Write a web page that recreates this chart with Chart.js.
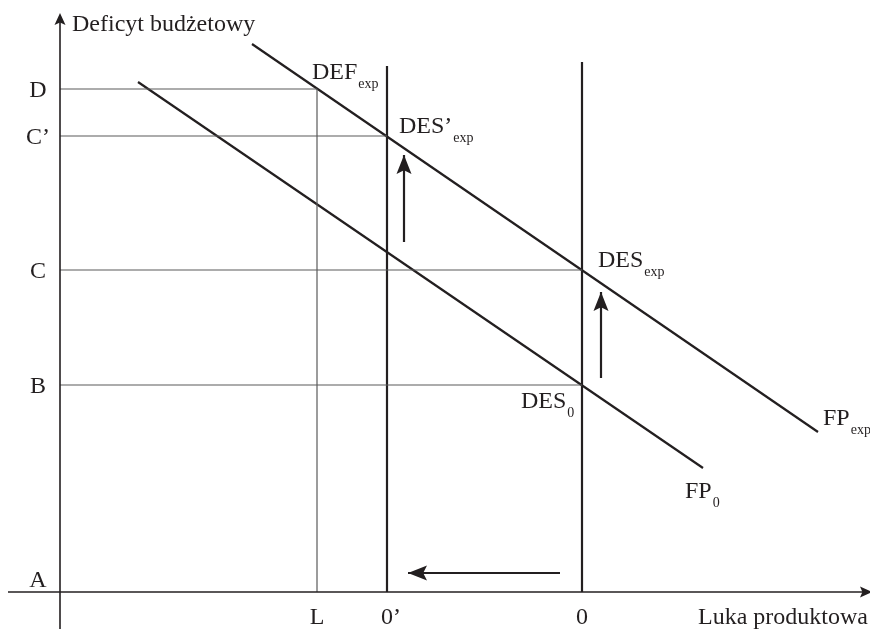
<!DOCTYPE html>
<html>
<head>
<meta charset="utf-8">
<script src="https://cdn.jsdelivr.net/npm/chart.js@4/dist/chart.umd.min.js"></script>
<style>
    html, body { margin: 0; padding: 0; background: #fff; }
    canvas { display: block; }
</style>
</head>
<body>
<canvas id="chart" width="870" height="629"></canvas>
<script>
// Axis ticks (output gap on x, budget deficit on y)
const xTickLabels = ['L', '0’', '0'];
const xTickValues = [257, 327, 522];
const yTickLabels = ['A', 'B', 'C', 'C’', 'D'];
const yTickValues = [13, 207, 322, 456, 503];

// Fiscal policy lines FP0 and FPexp
const fp0X = [78, 643];
const fp0Y = [510, 124];
const fpExpX = [192, 758];
const fpExpY = [548, 160];

// Vertical lines at L, 0', 0 (top ends)
const vLineTops = [503, 526, 530];
// Horizontal guides B, C, C', D and where they stop on x
const hLineLevels = [207, 322, 456, 503];
const hLineEnds = [522, 522, 327, 257];

// Shift arrows
const arrowFromX = [344, 541, 500];
const arrowFromY = [350, 214, 19];
const arrowToX = [344, 541, 348];
const arrowToY = [437, 300, 19];

// Point labels
const pointNames = ['DEF', 'DES’', 'DES', 'DES', 'FP', 'FP'];
const pointSubs = ['exp', 'exp', 'exp', '0', '0', 'exp'];
const pointX = [257, 327, 522, 522, 643, 758];
const pointY = [503, 456, 322, 207, 124, 160];

// Axis extents
const axisX = [-52, 806];
const axisY = [-37, 575];

const INK = '#231f20';
const GUIDE = '#5a5a5a';
const FONT = '"Liberation Serif", "DejaVu Serif", serif';

const line = (xs, ys, color, width) => ({
    data: xs.map((x, i) => ({ x: x, y: ys[i] })),
    showLine: true,
    borderColor: color,
    borderWidth: width,
    pointRadius: 0,
    fill: false
});

const datasets = [];
// axes
datasets.push(line(axisX, [0, 0], INK, 1.6));
datasets.push(line([0, 0], axisY, INK, 1.6));
// horizontal guides
hLineLevels.forEach((lv, i) => datasets.push(line([0, hLineEnds[i]], [lv, lv], GUIDE, 1.2)));
// vertical lines
xTickValues.forEach((xv, i) => datasets.push(line([xv, xv], [0, vLineTops[i]], i === 0 ? GUIDE : INK, i === 0 ? 1.2 : 2.2)));
// FP lines
datasets.push(line(fp0X, fp0Y, INK, 2.2));
datasets.push(line(fpExpX, fpExpY, INK, 2.2));
// shift arrow shafts
arrowFromX.forEach((x, i) => datasets.push(line([x, arrowToX[i]], [arrowFromY[i], arrowToY[i]], INK, 2.2)));

function arrowHead(ctx, x, y, angle, len, half) {
    ctx.save();
    ctx.translate(x, y);
    ctx.rotate(angle);
    ctx.beginPath();
    ctx.moveTo(0, 0);
    ctx.lineTo(-len, -half);
    ctx.lineTo(-len * 0.8, 0);
    ctx.lineTo(-len, half);
    ctx.closePath();
    ctx.fillStyle = INK;
    ctx.fill();
    ctx.restore();
}

const labelsPlugin = {
    id: 'diagramLabels',
    afterDatasetsDraw(chart) {
        const ctx = chart.ctx;
        const sx = chart.scales.x;
        const sy = chart.scales.y;
        ctx.save();
        ctx.fillStyle = INK;

        // axis arrow heads
        arrowHead(ctx, sx.getPixelForValue(axisX[1]) + 6, sy.getPixelForValue(0), 0, 12, 5.5);
        arrowHead(ctx, sx.getPixelForValue(0), sy.getPixelForValue(axisY[1]) - 4, -Math.PI / 2, 12, 5.5);

        // shift arrow heads
        arrowFromX.forEach((x0, i) => {
            const px0 = sx.getPixelForValue(x0), py0 = sy.getPixelForValue(arrowFromY[i]);
            const px1 = sx.getPixelForValue(arrowToX[i]), py1 = sy.getPixelForValue(arrowToY[i]);
            arrowHead(ctx, px1, py1, Math.atan2(py1 - py0, px1 - px0), 19, 7.5);
        });

        // y ticks
        ctx.font = '24px ' + FONT;
        ctx.textAlign = 'center';
        ctx.textBaseline = 'alphabetic';
        yTickLabels.forEach((t, i) => {
            ctx.fillText(t, 38, sy.getPixelForValue(yTickValues[i]) + 8);
        });

        // x ticks: first glyph centred on the line
        ctx.textAlign = 'left';
        xTickLabels.forEach((t, i) => {
            const w0 = ctx.measureText(t[0]).width;
            ctx.fillText(t, sx.getPixelForValue(xTickValues[i]) - w0 / 2, 624);
        });

        // axis titles
        ctx.fillText('Deficyt budżetowy', sx.getPixelForValue(0) + 12, 31);
        ctx.textAlign = 'right';
        ctx.fillText('Luka produktowa', 868, 624);

        // point labels with subscripts
        const offsets = [[-5, -10], [12, -3], [16, -3], [-61, 23], [-18, 30], [5, -7]];
        ctx.textAlign = 'left';
        pointNames.forEach((name, i) => {
            const px = sx.getPixelForValue(pointX[i]) + offsets[i][0];
            const py = sy.getPixelForValue(pointY[i]) + offsets[i][1];
            ctx.font = '24px ' + FONT;
            ctx.fillText(name, px, py);
            const w = ctx.measureText(name).width;
            ctx.font = '14px ' + FONT;
            ctx.fillText(pointSubs[i], px + w + 1, py + 9);
        });
        ctx.restore();
    }
};

new Chart(document.getElementById('chart'), {
    type: 'scatter',
    data: { datasets: datasets },
    options: {
        responsive: false,
        animation: false,
        layout: { padding: 0 },
        plugins: { legend: { display: false }, tooltip: { enabled: false } },
        scales: {
            x: { type: 'linear', min: -60, max: 810, display: false },
            y: { type: 'linear', min: -37, max: 592, display: false }
        }
    },
    plugins: [labelsPlugin]
});
</script>
</body>
</html>
